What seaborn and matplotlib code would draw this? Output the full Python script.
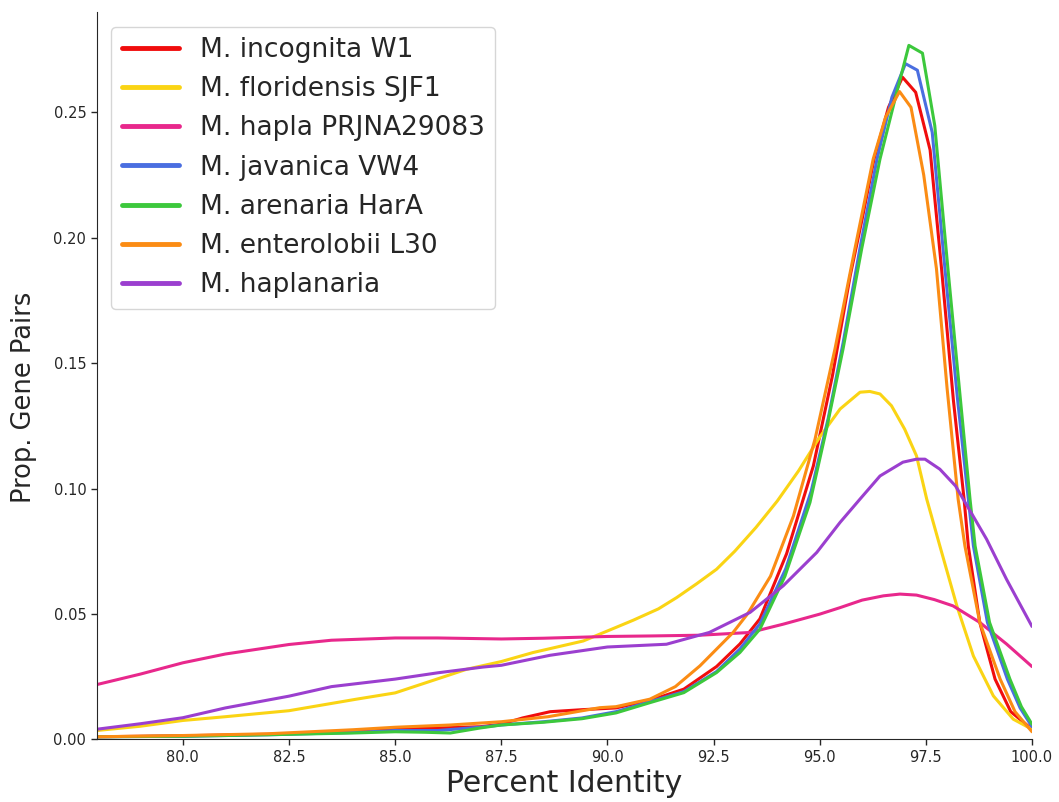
import numpy as np
import pandas as pd
import matplotlib
matplotlib.use("Agg")
import matplotlib.pyplot as plt
import seaborn as sns

labels = ["M. incognita W1", "M. floridensis SJF1", "M. hapla PRJNA29083",
          "M. javanica VW4", "M. arenaria HarA", "M. enterolobii L30", "M. haplanaria"]
colors = ["#f00d0d", "#fad414", "#e8288c", "#4a6ee0", "#3cc83c", "#fb8c14", "#9b3fcf"]

incognita_x = [77.97, 80, 82, 84, 85, 86, 87.0, 87.5, 88.0, 88.65, 89.4, 90.2, 91.0, 91.8, 92.57,
               93.12, 93.59, 94.22, 94.85, 95.3, 95.72, 96.0, 96.28, 96.62, 96.95, 97.26, 97.6,
               97.87, 98.15, 98.4, 98.5, 98.77, 99.13, 99.5, 100]
incognita_y = [0.001, 0.0014, 0.002, 0.003, 0.004, 0.0045, 0.005, 0.006, 0.0085, 0.011, 0.0118,
               0.0125, 0.0155, 0.02, 0.029, 0.038, 0.048, 0.074, 0.109, 0.145, 0.185, 0.2075,
               0.2314, 0.252, 0.264, 0.258, 0.235, 0.1876, 0.135, 0.0958, 0.0771, 0.0466, 0.024,
               0.011, 0.004]

floridensis_x = [77.97, 79, 80, 81, 82.5, 84.09, 85, 85.5, 86.68, 87.5, 88.25, 89.43, 90.2, 90.61,
                 91.2, 91.63, 92.1, 92.57, 93.0, 93.5, 94.0, 94.5, 95.0, 95.48, 95.95, 96.18,
                 96.42, 96.69, 97.0, 97.28, 97.52, 97.83, 98.23, 98.62, 99.09, 99.56, 100]
floridensis_y = [0.0035, 0.0052, 0.0075, 0.009, 0.0114, 0.016, 0.0185, 0.0213, 0.0279, 0.031,
                 0.0346, 0.0392, 0.0446, 0.0475, 0.052, 0.0565, 0.062, 0.0678, 0.075, 0.0845,
                 0.095, 0.107, 0.1205, 0.1317, 0.1384, 0.1387, 0.1377, 0.133, 0.1237, 0.113,
                 0.0958, 0.0771, 0.0532, 0.0332, 0.0173, 0.008, 0.004]

hapla_x = [77.97, 79, 80, 81, 82.5, 83.5, 85, 86, 87.5, 88.5, 90, 91, 92.18, 93.36, 94.14, 95.0,
           95.48, 96.0, 96.5, 96.89, 97.28, 97.7, 98.14, 98.77, 99.4, 100]
hapla_y = [0.0218, 0.026, 0.0305, 0.034, 0.0378, 0.0395, 0.0404, 0.0404, 0.040, 0.0403, 0.041,
           0.0412, 0.0415, 0.0426, 0.0459, 0.0499, 0.0525, 0.0555, 0.0572, 0.0579, 0.0575,
           0.0557, 0.0532, 0.0466, 0.038, 0.029]

javanica_x = [77.97, 80, 82, 84, 85, 86, 87.0, 87.5, 88.5, 89.4, 90.2, 91.0, 91.8, 92.57, 93.12,
              93.59, 94.2, 94.8, 95.2, 95.55, 95.95, 96.35, 96.7, 97.02, 97.3, 97.65, 97.95,
              98.25, 98.5, 98.62, 98.95, 99.42, 99.72, 100]
javanica_y = [0.001, 0.0012, 0.0018, 0.0027, 0.0035, 0.0035, 0.0048, 0.0057, 0.007, 0.0085,
              0.011, 0.015, 0.019, 0.027, 0.036, 0.046, 0.068, 0.099, 0.128, 0.158, 0.196,
              0.2314, 0.256, 0.2694, 0.2668, 0.242, 0.1876, 0.135, 0.0958, 0.0771, 0.0466,
              0.024, 0.0125, 0.005]

arenaria_x = [77.97, 80, 82, 84, 85, 85.7, 86.3, 87.0, 87.5, 88.5, 89.4, 90.2, 91.0, 91.8, 92.57,
              93.12, 93.59, 94.18, 94.77, 95.16, 95.55, 95.99, 96.42, 96.8, 97.1, 97.42, 97.71,
              98.02, 98.3, 98.54, 98.66, 99.0, 99.48, 99.75, 100]
arenaria_y = [0.001, 0.0012, 0.0018, 0.0025, 0.003, 0.0028, 0.0025, 0.0045, 0.0057, 0.0068,
              0.0082, 0.0105, 0.0146, 0.0186, 0.0266, 0.0346, 0.0439, 0.065, 0.0944, 0.1237,
              0.1557, 0.1957, 0.2314, 0.257, 0.2767, 0.2736, 0.2447, 0.1876, 0.138, 0.0958,
              0.0771, 0.0466, 0.024, 0.013, 0.006]

enterolobii_x = [77.97, 80, 82, 83, 84, 85, 86.3, 87.5, 88.6, 89.82, 90.2, 91.0, 91.6, 92.18,
                 92.96, 93.3, 93.84, 94.38, 94.89, 95.36, 95.83, 96.26, 96.55, 96.88, 97.15, 97.45,
                 97.75, 98.0, 98.26, 98.42, 98.77, 99.25, 99.6, 100]
enterolobii_y = [0.001, 0.0015, 0.0022, 0.003, 0.0038, 0.0048, 0.0057, 0.007, 0.009, 0.0126,
                 0.013, 0.016, 0.021, 0.0293, 0.0426, 0.05, 0.065, 0.089, 0.1197, 0.1557, 0.1957,
                 0.2314, 0.248, 0.2583, 0.252, 0.225, 0.1876, 0.14, 0.0958, 0.0771, 0.0466,
                 0.024, 0.011, 0.003]

haplanaria_x = [77.97, 79, 80, 81, 82.5, 83.5, 85, 86.0, 87.07, 87.5, 88.65, 90.0, 91.39, 92.4,
                93.36, 94.14, 94.93, 95.48, 95.95, 96.42, 96.96, 97.28, 97.48, 97.83, 98.2,
                98.93, 99.4, 100]
haplanaria_y = [0.004, 0.0062, 0.0086, 0.0125, 0.0172, 0.021, 0.024, 0.0265, 0.0288, 0.0295,
                0.0335, 0.0368, 0.0379, 0.0426, 0.0506, 0.0612, 0.0745, 0.0865, 0.0958, 0.105,
                0.1105, 0.1117, 0.1117, 0.1077, 0.101, 0.0798, 0.0638, 0.045]

series_x = [incognita_x, floridensis_x, hapla_x, javanica_x, arenaria_x, enterolobii_x, haplanaria_x]
series_y = [incognita_y, floridensis_y, hapla_y, javanica_y, arenaria_y, enterolobii_y, haplanaria_y]

frames = []
for lab, xs, ys in zip(labels, series_x, series_y):
    frames.append(pd.DataFrame({"Percent Identity": xs, "Prop": ys, "Species": lab}))
df = pd.concat(frames, ignore_index=True)

sns.set_style("ticks")
plt.rcParams["font.family"] = ["DejaVu Sans"]

fig = plt.figure(figsize=(10.59, 8.02), dpi=100)
ax = fig.add_axes([0.0913, 0.0782, 0.9745 - 0.0913, 0.985 - 0.0782])

sns.lineplot(data=df, x="Percent Identity", y="Prop", hue="Species", hue_order=labels,
             palette=colors, sort=False, estimator=None, units="Species", linewidth=2.2, ax=ax)

ax.set_xlim(77.97, 100)
ax.set_ylim(0, 0.29)
ax.set_xticks([80, 82.5, 85, 87.5, 90, 92.5, 95, 97.5, 100])
ax.set_xticklabels(["80.0", "82.5", "85.0", "87.5", "90.0", "92.5", "95.0", "97.5", "100.0"])
ax.set_yticks([0, 0.05, 0.10, 0.15, 0.20, 0.25])
ax.set_yticklabels(["0.00", "0.05", "0.10", "0.15", "0.20", "0.25"])
ax.tick_params(labelsize=10.5, length=4, width=1)
ax.set_xlabel("Percent Identity", fontsize=21.5, labelpad=3)
ax.set_ylabel("Prop. Gene Pairs", fontsize=18.5, labelpad=10)
ax.yaxis.set_label_coords(-0.064, 0.47)
sns.despine(ax=ax)

leg = ax.legend(loc="upper left", fontsize=19, frameon=True, handlelength=2.16,
                borderaxespad=0.55, labelspacing=0.5, handletextpad=0.8)
for h in leg.get_lines():
    h.set_linewidth(3.5)
leg.get_frame().set_edgecolor("#cccccc")

fig.savefig("out.png", dpi=100)
